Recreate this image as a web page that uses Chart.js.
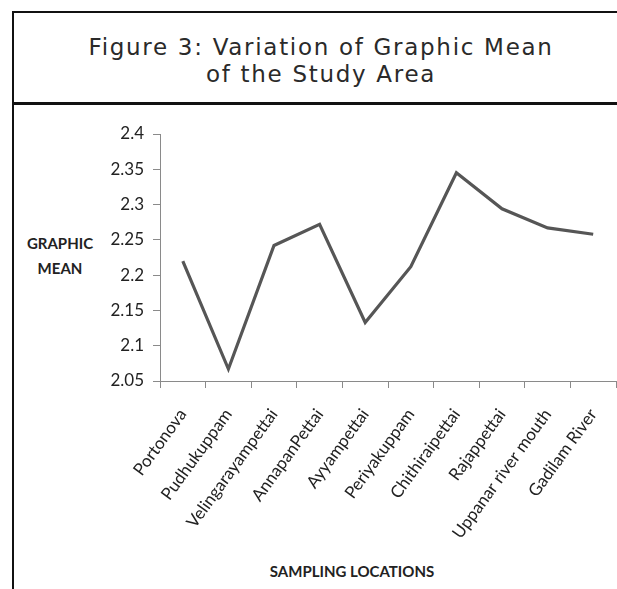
<!DOCTYPE html>
<html>
<head>
<meta charset="utf-8">
<script src="https://cdn.jsdelivr.net/npm/chart.js@4"></script>
<style>
  html, body { margin: 0; padding: 0; background: #fff; overflow: hidden; }
  #page { position: relative; width: 617px; height: 589px; overflow: hidden; }
  #frame {
    position: absolute; left: 12px; top: 11px; width: 640px; height: 600px;
    border-top: 2px solid #111; border-left: 2px solid #111;
  }
  #sep { position: absolute; left: 12px; top: 102px; width: 640px; height: 3px; background: #111; }
  #title {
    position: absolute; left: 14px; top: 34px; width: 614px; text-align: center;
    font-family: "DejaVu Sans", sans-serif; font-size: 23px; line-height: 27px;
    letter-spacing: 1.7px; color: #2a2a2a;
  }
  .axt {
    position: absolute; font-family: Lato, sans-serif; font-weight: bold;
    font-size: 15px; color: #222; text-align: center; white-space: nowrap;
  }
  #wrap { position: absolute; left: 0; top: 0; width: 617px; height: 589px; }
</style>
</head>
<body>
<div id="page">
  <div id="frame"></div>
  <div id="sep"></div>
  <div id="title">Figure 3: Variation of Graphic Mean<br>of the Study Area</div>
  <div class="axt" style="left:20px; top:231px; width:80px; line-height:25px;">GRAPHIC<br>MEAN</div>
  <div class="axt" style="left:252px; top:562px; width:200px;">SAMPLING LOCATIONS</div>
  <div id="wrap"><canvas id="chart"></canvas></div>
</div>
<script>
const locations = [
  'Portonova', 'Pudhukuppam', 'Velingarayampettai', 'AnnapanPettai', 'Ayyampettai',
  'Periyakuppam', 'Chithiraipettai', 'Rajappettai', 'Uppanar river mouth', 'Gadilam River'
];
const graphicMean = [2.22, 2.067, 2.242, 2.272, 2.133, 2.212, 2.345, 2.294, 2.267, 2.258];
const yTicks = [2.05, 2.1, 2.15, 2.2, 2.25, 2.3, 2.35, 2.4];

const ctx = document.getElementById('chart').getContext('2d');

new Chart(ctx, {
  type: 'line',
  data: {
    labels: locations,
    datasets: [{
      label: 'Graphic Mean',
      data: graphicMean,
      borderColor: '#565656',
      borderWidth: 3.2,
      pointRadius: 0,
      tension: 0,
      fill: false
    }]
  },
  options: {
    responsive: true,
    maintainAspectRatio: false,
    animation: false,
    layout: { padding: { top: 134, left: 0, right: 1, bottom: 0 } },
    plugins: {
      legend: { display: false },
      tooltip: { enabled: false }
    },
    scales: {
      x: {
        offset: true,
        afterFit: s => { s.height = 208; s.paddingLeft = 0; s.paddingRight = 0; },
        grid: { offset: true, drawOnChartArea: false, drawTicks: true, tickLength: 7, color: '#8a8a8a' },
        border: { color: '#8a8a8a' },
        ticks: {
          autoSkip: false, minRotation: 54, maxRotation: 54, padding: 17,
          color: '#222', font: { family: 'Lato', size: 17 }
        }
      },
      y: {
        min: 2.05,
        max: 2.4,
        afterFit: s => { s.width = 160; },
        afterBuildTicks: s => { s.ticks = yTicks.map(v => ({ value: v })); },
        grid: { drawOnChartArea: false, drawTicks: true, tickLength: 7, color: '#8a8a8a' },
        border: { color: '#8a8a8a' },
        ticks: {
          padding: 9, color: '#222', font: { family: 'Lato', size: 17 },
          callback: v => String(+v.toFixed(2))
        }
      }
    }
  }
});
</script>
</body>
</html>
